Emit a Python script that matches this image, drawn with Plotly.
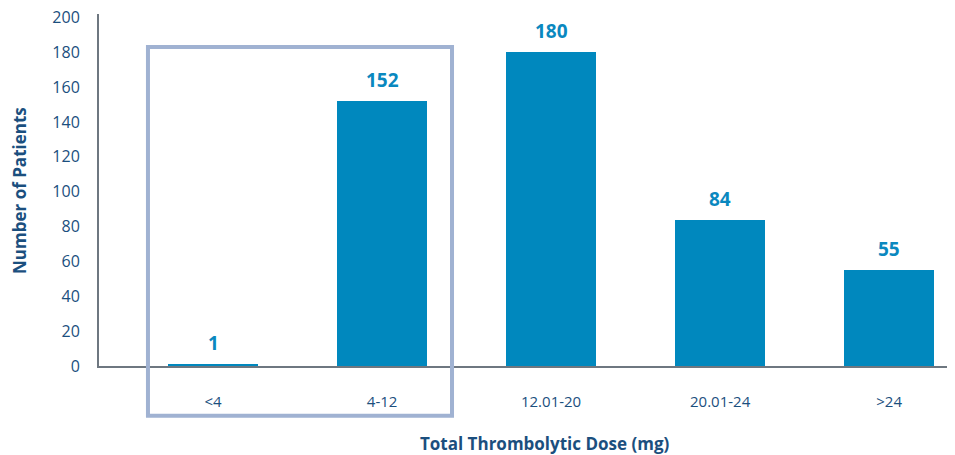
import plotly.graph_objects as go

categories = ["<4", "4-12", "12.01-20", "20.01-24", ">24"]
patients = [1, 152, 180, 84, 55]
y_ticks = [0, 20, 40, 60, 80, 100, 120, 140, 160, 180, 200]

BAR = "#0088BE"
NAVY = "#1B4F7E"
AXIS = "#6E7780"
BOX = "#A0B2D2"
FONT = "Open Sans"

fig = go.Figure()
fig.add_trace(go.Bar(
    x=list(range(len(categories))), y=patients,
    marker=dict(color=BAR, line=dict(width=0)),
    width=0.53, hoverinfo="skip",
))

for i, v in enumerate(patients):
    fig.add_annotation(x=i, y=v, xref="x", yref="y", text=f"<b>{v}</b>",
                       showarrow=False, yanchor="bottom", yshift=6,
                       font=dict(family=FONT, size=19, color="#0A88BF"))

fig.update_layout(
    width=955, height=455,
    margin=dict(l=91, r=8, t=6, b=97, autoexpand=False),
    paper_bgcolor="white", plot_bgcolor="white",
    showlegend=False, bargap=0,
    font=dict(family=FONT, color=NAVY),
    xaxis=dict(
        range=[-0.675, 4.39], tickmode="array", automargin=False,
        tickvals=list(range(len(categories))), ticktext=categories,
        showgrid=False, zeroline=False, showline=True, linecolor=AXIS, linewidth=2,
        ticks="", ticklabelstandoff=21, tickfont=dict(family=FONT, size=15, color=NAVY),
    ),
    yaxis=dict(
        range=[0, 202], tickmode="array", tickvals=y_ticks, automargin=False,
        showgrid=False, zeroline=False, showline=True, linecolor=AXIS, linewidth=2,
        ticks="", ticklabelstandoff=14, ticklabelshift=0, ticklabeloverflow="allow",
        tickfont=dict(family=FONT, size=16, color=NAVY),
    ),
)

fig.add_shape(type="rect", xref="paper", yref="paper",
              x0=0.0572, x1=0.4124, y0=-0.1416, y1=0.9065,
              line=dict(color=BOX, width=4), fillcolor="rgba(0,0,0,0)", layer="above")

fig.add_annotation(xref="paper", yref="paper", x=-0.0935, y=0.5,
                   xanchor="center", yanchor="middle",
                   text="<b>Number of Patients</b>", textangle=-90, showarrow=False,
                   font=dict(family=FONT, size=17, color=NAVY))
fig.add_annotation(xref="paper", yref="paper", x=0.5205, y=-0.221,
                   xanchor="center", yanchor="middle",
                   text="<b>Total Thrombolytic Dose (mg)</b>", showarrow=False,
                   font=dict(family=FONT, size=17, color=NAVY))

fig.write_html("out.html")
